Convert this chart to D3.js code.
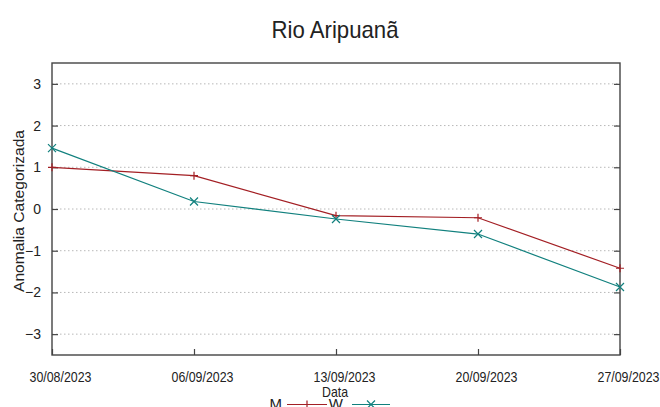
<!DOCTYPE html>
<html><head><meta charset="utf-8">
<script src="https://cdn.jsdelivr.net/npm/d3@7"></script>
<style>
html,body{margin:0;padding:0;background:#fff;overflow:hidden}
svg{display:block}
text{font-family:"Liberation Sans",Arial,sans-serif;fill:#222}
</style></head>
<body>
<svg id="c" width="660" height="407"></svg>
<script>
const dates = ["30/08/2023","06/09/2023","13/09/2023","20/09/2023","27/09/2023"];
const seriesNames = ["M","W"];
const valuesM = [1.00, 0.80, -0.16, -0.21, -1.42];
const valuesW = [1.46, 0.18, -0.24, -0.60, -1.87];
const yTicks = [-3,-2,-1,0,1,2,3];
const colors = ["#a31f24","#11807e"];

const W = 660, H = 407;
const m = {left:52, right:40, top:63, bottom:52};
const svg = d3.select("#c");
const parse = d3.timeParse("%d/%m/%Y");
const x = d3.scaleTime().domain([parse(dates[0]), parse(dates[dates.length-1])]).range([m.left, W-m.right]);
const y = d3.scaleLinear().domain([-3.5,3.5]).range([H-m.bottom, m.top]);

// grid
svg.append("g").selectAll("line").data(yTicks).join("line")
  .attr("x1", m.left).attr("x2", W-m.right)
  .attr("y1", d=>y(d)).attr("y2", d=>y(d))
  .attr("stroke","#b8b8b8").attr("stroke-width",1).attr("stroke-dasharray","1.5,2.5");

// left axis
const ya = svg.append("g").attr("transform",`translate(${m.left},0)`)
  .call(d3.axisLeft(y).tickValues(yTicks).tickSize(-6).tickPadding(11).tickFormat(d3.format("d")));
ya.select(".domain").remove();
ya.selectAll(".tick line").attr("stroke","#444").attr("stroke-width",1.2);
ya.selectAll("text").style("font-size","14px").attr("fill","#222").style("font-family",'"Liberation Sans",Arial,sans-serif');
// right ticks
const yr = svg.append("g").attr("transform",`translate(${W-m.right},0)`)
  .call(d3.axisRight(y).tickValues(yTicks).tickSize(-6).tickFormat(""));
yr.select(".domain").remove();
yr.selectAll(".tick line").attr("stroke","#444").attr("stroke-width",1.2);

// bottom axis
const xa = svg.append("g").attr("transform",`translate(0,${H-m.bottom})`)
  .call(d3.axisBottom(x).tickValues(dates.map(parse)).tickSize(-6).tickPadding(0).tickFormat(d3.timeFormat("%d/%m/%Y")));
xa.select(".domain").remove();
xa.selectAll(".tick line").attr("stroke","#444").attr("stroke-width",1.2);
xa.selectAll("text").attr("dy",0).attr("y",26.5).attr("x",8)
  .style("font-size","15px").style("font-family",'"Liberation Sans Narrow","Liberation Sans",Arial,sans-serif')
  .attr("textLength",62).attr("lengthAdjust","spacingAndGlyphs").attr("fill","#222");

// frame
svg.append("rect").attr("x",m.left).attr("y",m.top).attr("width",W-m.left-m.right).attr("height",H-m.top-m.bottom)
  .attr("fill","none").attr("stroke","#444").attr("stroke-width",1.4);

// series
const series = [valuesM, valuesW];
const line = d3.line().x((d,i)=>x(parse(dates[i]))).y(d=>y(d));
series.forEach((vals,k)=>{
  svg.append("path").datum(vals).attr("d",line).attr("fill","none")
    .attr("stroke",colors[k]).attr("stroke-width",1.2);
  const g = svg.append("g");
  vals.forEach((v,i)=>{
    drawMarker(g, x(parse(dates[i])), y(v), k, colors[k]);
  });
});

function drawMarker(g, cx, cy, k, col){
  const s = 4;
  if(k===0){
    g.append("path").attr("d",`M${cx-s},${cy}H${cx+s}M${cx},${cy-s}V${cy+s}`).attr("stroke",col).attr("stroke-width",1.2);
  } else {
    g.append("path").attr("d",`M${cx-s},${cy-s}L${cx+s},${cy+s}M${cx-s},${cy+s}L${cx+s},${cy-s}`).attr("stroke",col).attr("stroke-width",1.2);
  }
}

// title
svg.append("text").attr("x",335).attr("y",37.5).attr("text-anchor","middle")
  .style("font-size","24px").attr("textLength",127).attr("lengthAdjust","spacingAndGlyphs").text("Rio Aripuanã");

// y label
svg.append("text").attr("transform","translate(24,211) rotate(-90)").attr("text-anchor","middle")
  .style("font-size","15.5px").attr("textLength",162).attr("lengthAdjust","spacingAndGlyphs").text("Anomalia Categorizada");

// x label
svg.append("text").attr("x",335).attr("y",397).attr("text-anchor","middle")
  .style("font-size","15px").style("font-family",'"Liberation Sans Narrow","Liberation Sans",Arial,sans-serif')
  .attr("textLength",26).attr("lengthAdjust","spacingAndGlyphs").text("Data");

// legend
const legendItems = [
  {name:seriesNames[0], tx:282, x1:287, x2:327},
  {name:seriesNames[1], tx:343, x1:352, x2:390}
];
legendItems.forEach((it,k)=>{
  svg.append("text").attr("x",it.tx).attr("y",409).attr("text-anchor","end")
    .style("font-size","15px").style("font-family",'"Liberation Sans Narrow","Liberation Sans",Arial,sans-serif').text(it.name);
  svg.append("line").attr("x1",it.x1).attr("x2",it.x2).attr("y1",404.5).attr("y2",404.5)
    .attr("stroke",colors[k]).attr("stroke-width",1.2);
  drawMarker(svg, (it.x1+it.x2)/2, 404.5, k, colors[k]);
});
</script>
</body></html>
